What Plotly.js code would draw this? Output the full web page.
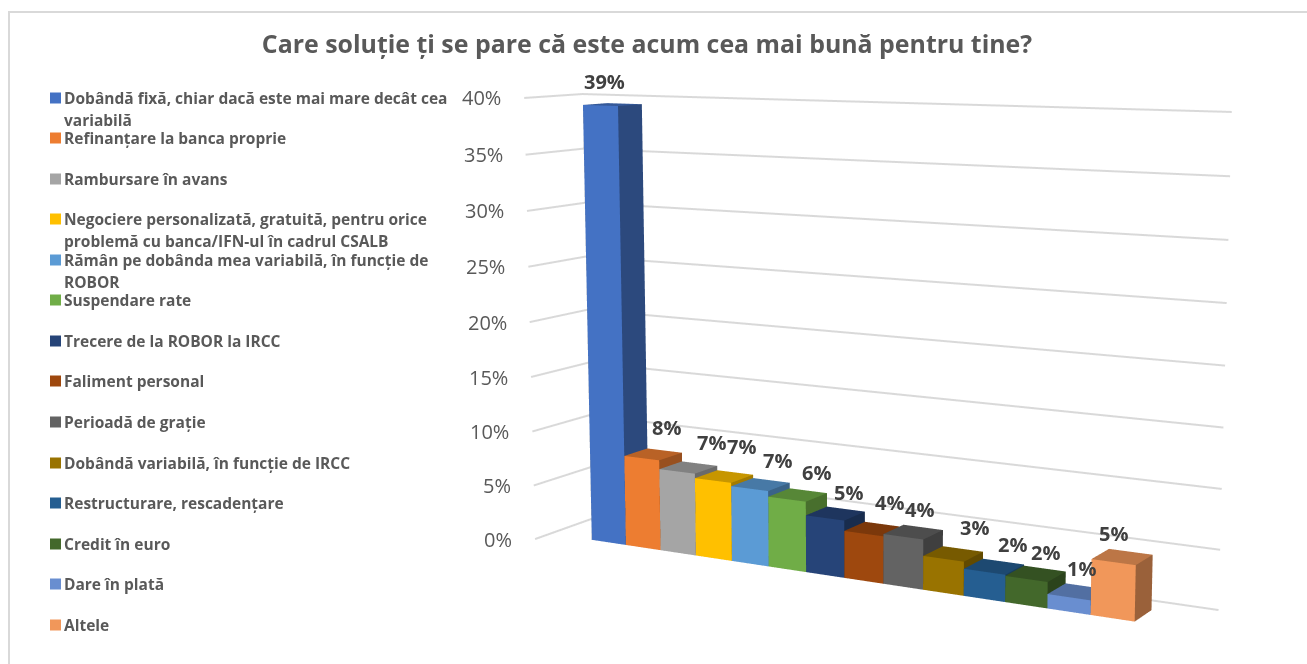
<!DOCTYPE html>
<html><head><meta charset="utf-8">
<script src="https://cdn.plot.ly/plotly-3.0.1.min.js"></script>
<style>html,body{margin:0;padding:0;width:1307px;height:664px;overflow:hidden;background:#fff}
#c{position:absolute;left:0;top:-554px;width:1307px;height:1765px}</style></head>
<body><div id="c"></div>
<script>
var categories=[
"Dobândă fixă, chiar dacă este mai mare decât cea<br>variabilă",
"Refinanțare la banca proprie",
"Rambursare în avans",
"Negociere personalizată, gratuită, pentru orice<br>problemă cu banca/IFN-ul în cadrul CSALB",
"Rămân pe dobânda mea variabilă, în funcție de<br>ROBOR",
"Suspendare rate",
"Trecere de la ROBOR la IRCC",
"Faliment personal",
"Perioadă de grație",
"Dobândă variabilă, în funcție de IRCC",
"Restructurare, rescadențare",
"Credit în euro",
"Dare în plată",
"Altele"];
var values=[39.4,8.2,7.4,7,6.7,6.2,5,4.1,4.3,2.9,2.3,2.2,1.2,4.6];
var colors=["#4472C4","#ED7D31","#A5A5A5","#FFC000","#5B9BD5","#70AD47","#264478","#9E480E","#636363","#997300","#255E91","#43682B","#698ED0","#F1975A"];
var zTicks=[0,5,10,15,20,25,30,35,40];
var title="Care soluție ți se pare că este acum cea mai bună pentru tine?";
var legendY=[98,138,179,219,260,300,341,381,422,463,503,544,584,625];
var labelDx=[-26,-4,5,0,-1,1,-4,-2,-11,4,2,-7,-13,-25];
var labelDy=[4,6,4,9,3,1,-1,5,1,4,0,-1,1,1];

var W=1307,H=1765,TOP=554;
function px(x){return x/W;}
function py(y){return 1-(y+TOP)/H;}
function shade(hex,f){var n=parseInt(hex.slice(1),16);
  return 'rgb('+Math.round((n>>16&255)*f)+','+Math.round((n>>8&255)*f)+','+Math.round((n&255)*f)+')';}

var xR=[-1.82,14.67], yR=[-0.989,1.283], zR=[0,40];
function padded(r){var p=(r[1]-r[0])*0.01;return [r[0]-p,r[1]+p];}
var traces=[];
// gridlines on side wall and back wall
zTicks.forEach(function(v){
  traces.push({type:'scatter3d',mode:'lines',x:[xR[0],xR[0],xR[1]],y:[yR[0],yR[1],yR[1]],z:[v,v,v],
    line:{color:'#D9D9D9',width:4},showlegend:false,hoverinfo:'skip'});
});
// bars
var hw=0.5, hd=0.48, barX=-0.08, barY=0.1;
values.forEach(function(v,n){
  var a=n-hw+barX,b=n+hw+barX,f=barY-hd,k=barY+hd;
  var c=colors[n],top=shade(c,0.78),side=shade(c,0.64);
  traces.push({type:'mesh3d',name:categories[n].replace('<br>',' '),
    x:[a,b,b,a,a,b,b,a],y:[f,f,k,k,f,f,k,k],z:[0,0,0,0,v,v,v,v],
    i:[0,0,1,1,2,2,3,3,4,4,0,0],
    j:[1,5,2,6,3,7,0,4,5,6,1,2],
    k:[5,4,6,5,7,6,4,7,6,7,2,3],
    facecolor:[c,c,side,side,side,side,side,side,top,top,side,side],
    flatshading:true,lighting:{ambient:1,diffuse:0,specular:0,roughness:1,fresnel:0},
    hoverinfo:'name',showscale:false});
});

var sceneAnn=[];
values.forEach(function(v,n){
  sceneAnn.push({x:n,y:hd,z:v,text:'<b>'+Math.round(v)+'%</b>',showarrow:false,xanchor:'center',yanchor:'bottom',
    xshift:6+labelDx[n],yshift:3+labelDy[n],font:{family:'Open Sans',size:20,color:'#404040'}});
});
zTicks.forEach(function(v){
  sceneAnn.push({x:xR[0],y:yR[0],z:v,text:v+'%',showarrow:false,xanchor:'right',yanchor:'middle',
    xshift:-21,yshift:0,font:{family:'Open Sans',size:20,color:'#595959'}});
});

var ann=[],shapes=[];
categories.forEach(function(t,n){
  var y0=legendY[n];
  t.split('<br>').forEach(function(line,m){
    ann.push({xref:'paper',yref:'paper',x:px(62),y:py(y0+m*22),text:'<b>'+line+'</b>',showarrow:false,
      xanchor:'left',yanchor:'middle',align:'left',font:{family:'Open Sans',size:15.5,color:'#595959'}});
  });
  shapes.push({type:'rect',xref:'paper',yref:'paper',x0:px(50),x1:px(61),y0:py(y0-5.5),y1:py(y0+5.5),
    fillcolor:colors[n],line:{width:0}});
});
// the frame is only visible along the top and the left of the picture
shapes.push({type:'line',xref:'paper',yref:'paper',x0:px(9),x1:px(1307),y0:py(12),y1:py(12),line:{color:'#D9D9D9',width:2}});
shapes.push({type:'line',xref:'paper',yref:'paper',x0:px(9),x1:px(9),y0:py(11),y1:py(664),line:{color:'#D9D9D9',width:2}});

function hid(r){return {range:padded(r),autorange:false,visible:false,showgrid:false,zeroline:false,showticklabels:false,
  showbackground:false,showspikes:false,title:{text:''}};}
var layout={width:W,height:H,margin:{l:0,r:0,t:0,b:0,pad:0},paper_bgcolor:'#fff',showlegend:false,hovermode:'closest',
  title:{text:'<b>'+title+'</b>',xref:'paper',yref:'paper',x:px(647),y:py(44),xanchor:'center',yanchor:'middle',
    font:{family:'Open Sans',size:24.9,color:'#595959'}},
  annotations:ann,shapes:shapes,
  scene:{domain:{x:[421/W,1],y:[0,1]},xaxis:hid(xR),yaxis:hid(yR),zaxis:hid(zR),
    aspectmode:'manual',aspectratio:{x:.6172*1.02,y:.085*1.02,z:.397*1.02},
    camera:{eye:{x:.8598,y:-1.5372,z:.288},center:{x:.017,y:-.0164,z:.0154},up:{x:0,y:0,z:1},projection:{type:'perspective'}},
    annotations:sceneAnn}};
Plotly.newPlot('c',traces,layout,{displayModeBar:false,staticPlot:false});
</script></body></html>
